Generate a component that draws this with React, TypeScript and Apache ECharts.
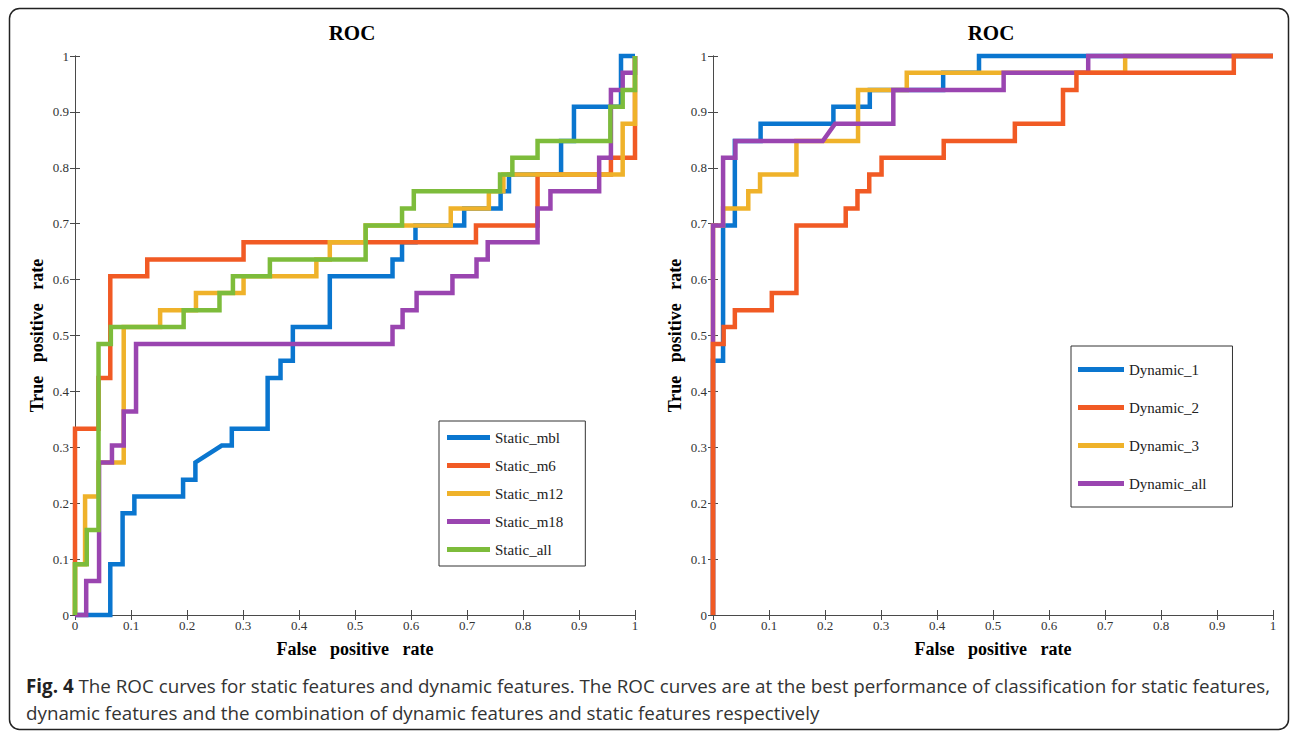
import React, { useEffect, useRef } from "react";
import * as echarts from "echarts";

// ---------- Data: ROC curve vertices (FPR, TPR) ----------
const staticNames = ["Static_mbl", "Static_m6", "Static_m12", "Static_m18", "Static_all"];
const dynamicNames = ["Dynamic_1", "Dynamic_2", "Dynamic_3", "Dynamic_all"];

const mblFpr = [0, 0.063, 0.063, 0.085, 0.085, 0.106, 0.106, 0.193, 0.193, 0.215, 0.215, 0.262, 0.28, 0.28, 0.344, 0.344, 0.367, 0.367, 0.389, 0.389, 0.455, 0.455, 0.567, 0.567, 0.584, 0.584, 0.608, 0.608, 0.695, 0.695, 0.76, 0.76, 0.775, 0.775, 0.868, 0.868, 0.891, 0.891, 0.975, 0.975, 1];
const mblTpr = [0, 0, 0.091, 0.091, 0.182, 0.182, 0.212, 0.212, 0.242, 0.242, 0.273, 0.303, 0.303, 0.333, 0.333, 0.424, 0.424, 0.455, 0.455, 0.515, 0.515, 0.606, 0.606, 0.636, 0.636, 0.667, 0.667, 0.697, 0.697, 0.727, 0.727, 0.758, 0.758, 0.788, 0.788, 0.848, 0.848, 0.909, 0.909, 1, 1];

const m6Fpr = [0, 0, 0.042, 0.042, 0.063, 0.063, 0.129, 0.129, 0.301, 0.301, 0.716, 0.716, 0.826, 0.826, 0.957, 0.957, 1, 1];
const m6Tpr = [0, 0.333, 0.333, 0.424, 0.424, 0.606, 0.606, 0.636, 0.636, 0.667, 0.667, 0.697, 0.697, 0.788, 0.788, 0.818, 0.818, 1];

const m12Fpr = [0, 0, 0.018, 0.018, 0.042, 0.042, 0.087, 0.087, 0.152, 0.152, 0.216, 0.216, 0.301, 0.301, 0.431, 0.431, 0.455, 0.455, 0.519, 0.519, 0.671, 0.671, 0.739, 0.739, 0.765, 0.765, 0.978, 0.978, 1, 1];
const m12Tpr = [0, 0.091, 0.091, 0.212, 0.212, 0.273, 0.273, 0.515, 0.515, 0.545, 0.545, 0.576, 0.576, 0.606, 0.606, 0.636, 0.636, 0.667, 0.667, 0.697, 0.697, 0.727, 0.727, 0.758, 0.758, 0.788, 0.788, 0.879, 0.879, 1];

const m18Fpr = [0, 0.02, 0.02, 0.043, 0.043, 0.066, 0.066, 0.087, 0.087, 0.109, 0.109, 0.567, 0.567, 0.585, 0.585, 0.61, 0.61, 0.674, 0.674, 0.717, 0.717, 0.737, 0.737, 0.826, 0.826, 0.849, 0.849, 0.936, 0.936, 0.957, 0.957, 0.978, 0.978, 1, 1];
const m18Tpr = [0, 0, 0.061, 0.061, 0.273, 0.273, 0.303, 0.303, 0.364, 0.364, 0.485, 0.485, 0.515, 0.515, 0.545, 0.545, 0.576, 0.576, 0.606, 0.606, 0.636, 0.636, 0.667, 0.667, 0.727, 0.727, 0.758, 0.758, 0.818, 0.818, 0.939, 0.939, 0.97, 0.97, 1];

const allFpr = [0, 0, 0.021, 0.021, 0.042, 0.042, 0.064, 0.064, 0.194, 0.194, 0.258, 0.258, 0.282, 0.282, 0.348, 0.348, 0.519, 0.519, 0.584, 0.584, 0.605, 0.605, 0.759, 0.759, 0.781, 0.781, 0.826, 0.826, 0.956, 0.956, 0.978, 0.978, 1, 1];
const allTpr = [0, 0.091, 0.091, 0.152, 0.152, 0.485, 0.485, 0.515, 0.515, 0.545, 0.545, 0.576, 0.576, 0.606, 0.606, 0.636, 0.636, 0.697, 0.697, 0.727, 0.727, 0.758, 0.758, 0.788, 0.788, 0.818, 0.818, 0.848, 0.848, 0.909, 0.909, 0.939, 0.939, 1];

const d1Fpr = [0, 0, 0.018, 0.018, 0.039, 0.039, 0.085, 0.085, 0.215, 0.215, 0.28, 0.28, 0.411, 0.411, 0.475, 0.475, 1];
const d1Tpr = [0, 0.455, 0.455, 0.697, 0.697, 0.848, 0.848, 0.879, 0.879, 0.909, 0.909, 0.939, 0.939, 0.97, 0.97, 1, 1];

const d2Fpr = [0, 0, 0.019, 0.019, 0.039, 0.039, 0.105, 0.105, 0.149, 0.149, 0.237, 0.237, 0.258, 0.258, 0.279, 0.279, 0.301, 0.301, 0.412, 0.412, 0.539, 0.539, 0.625, 0.625, 0.649, 0.649, 0.93, 0.93, 1];
const d2Tpr = [0, 0.485, 0.485, 0.515, 0.515, 0.545, 0.545, 0.576, 0.576, 0.697, 0.697, 0.727, 0.727, 0.758, 0.758, 0.788, 0.788, 0.818, 0.818, 0.848, 0.848, 0.879, 0.879, 0.939, 0.939, 0.97, 0.97, 1, 1];

const d3Fpr = [0, 0, 0.018, 0.018, 0.063, 0.063, 0.084, 0.084, 0.149, 0.149, 0.259, 0.259, 0.346, 0.346, 0.736, 0.736, 1];
const d3Tpr = [0, 0.697, 0.697, 0.727, 0.727, 0.758, 0.758, 0.788, 0.788, 0.848, 0.848, 0.939, 0.939, 0.97, 0.97, 1, 1];

const dallFpr = [0, 0, 0.018, 0.018, 0.04, 0.04, 0.196, 0.218, 0.322, 0.322, 0.519, 0.519, 0.67, 0.67, 1];
const dallTpr = [0, 0.697, 0.697, 0.818, 0.818, 0.848, 0.848, 0.879, 0.879, 0.939, 0.939, 0.97, 0.97, 1, 1];

const COLORS = {
  blue: "#0a76cf",
  orange: "#f15a24",
  yellow: "#efb22a",
  purple: "#9a45b0",
  green: "#7dbc3b",
};

const pairs = (xs: number[], ys: number[]) => xs.map((x, i) => [x, ys[i]]);

const SERIF = "'Liberation Serif', 'Times New Roman', serif";
const CAPTION_FONT = "'Open Sans', sans-serif";

export default function App() {
  const ref = useRef<HTMLDivElement>(null);

  useEffect(() => {
    if (!ref.current) return;
    const chart = echarts.init(ref.current, null, { renderer: "svg" });

    const axisLine = { show: true, lineStyle: { color: "#4a4a4a", width: 1 } };
    const tick = { show: true, inside: true, length: 5, lineStyle: { color: "#4a4a4a", width: 1 } };
    const label = { color: "#333", fontFamily: SERIF, fontSize: 13 };
    const nameStyle = { fontFamily: SERIF, fontWeight: "bold" as const, fontSize: 18, color: "#000" };

    const makeX = (gridIndex: number) => [
      {
        type: "value", gridIndex, min: 0, max: 1, interval: 0.1, position: "bottom",
        axisLine, axisTick: tick, splitLine: { show: false },
        axisLabel: { ...label, margin: 4 },
        name: "False   positive   rate", nameLocation: "middle", nameGap: 25, nameTextStyle: nameStyle,
      },
      {
        type: "value", gridIndex, min: 0, max: 1, interval: 0.1, position: "top",
        axisLine, axisTick: tick, splitLine: { show: false }, axisLabel: { show: false },
      },
    ];
    const makeY = (gridIndex: number) => [
      {
        type: "value", gridIndex, min: 0, max: 1, interval: 0.1, position: "left",
        axisLine, axisTick: tick, splitLine: { show: false },
        axisLabel: { ...label, margin: 6 },
        name: "True   positive   rate", nameLocation: "middle", nameGap: 29, nameTextStyle: nameStyle,
      },
      {
        type: "value", gridIndex, min: 0, max: 1, interval: 0.1, position: "right",
        axisLine, axisTick: tick, splitLine: { show: false }, axisLabel: { show: false },
      },
    ];

    const line = (name: string, color: string, data: number[][], gi: number) => ({
      name, type: "line", data, xAxisIndex: gi * 2, yAxisIndex: gi * 2,
      showSymbol: false, symbol: "none", clip: false,
      lineStyle: { color, width: 4.5, join: "miter" },
      itemStyle: { color },
    });

    const legendBase = {
      orient: "vertical", icon: "rect", selectedMode: false,
      backgroundColor: "#fff", borderColor: "#333", borderWidth: 1,
      textStyle: { fontFamily: SERIF, fontSize: 15, color: "#222" },
    };

    chart.setOption({
      animation: false,
      backgroundColor: "#fff",
      grid: [
        { left: 75, top: 56, width: 560, height: 559 },
        { left: 713, top: 56, width: 560, height: 559 },
      ],
      xAxis: [...makeX(0), ...makeX(1)],
      yAxis: [...makeY(0), ...makeY(1)],
      legend: [
        {
          ...legendBase, data: staticNames, left: 439, top: 421,
          itemWidth: 43, itemHeight: 5, itemGap: 13, padding: [9, 22, 9, 8],
        },
        {
          ...legendBase, data: dynamicNames, left: 1071, top: 346,
          itemWidth: 46, itemHeight: 5, itemGap: 23, padding: [16, 26, 16, 7],
        },
      ],
      series: [
        line(staticNames[0], COLORS.blue, pairs(mblFpr, mblTpr), 0),
        line(staticNames[1], COLORS.orange, pairs(m6Fpr, m6Tpr), 0),
        line(staticNames[2], COLORS.yellow, pairs(m12Fpr, m12Tpr), 0),
        line(staticNames[3], COLORS.purple, pairs(m18Fpr, m18Tpr), 0),
        line(staticNames[4], COLORS.green, pairs(allFpr, allTpr), 0),
        line(dynamicNames[0], COLORS.blue, pairs(d1Fpr, d1Tpr), 1),
        line(dynamicNames[2], COLORS.yellow, pairs(d3Fpr, d3Tpr), 1),
        line(dynamicNames[3], COLORS.purple, pairs(dallFpr, dallTpr), 1),
        line(dynamicNames[1], COLORS.orange, pairs(d2Fpr, d2Tpr), 1),
      ],
      graphic: [
        {
          type: "rect", silent: true, z: -1,
          shape: { x: 9.5, y: 8.5, width: 1279, height: 721, r: 10 },
          style: { fill: "none", stroke: "#222", lineWidth: 1.5 },
        },
        {
          type: "text", x: 352, y: 33,
          style: { text: "ROC", font: `bold 21px ${SERIF}`, fill: "#000", textAlign: "center", textVerticalAlign: "middle" },
        },
        {
          type: "text", x: 991, y: 33,
          style: { text: "ROC", font: `bold 21px ${SERIF}`, fill: "#000", textAlign: "center", textVerticalAlign: "middle" },
        },
        {
          type: "text", x: 26, y: 686,
          style: {
            text: "{b|Fig. 4} The ROC curves for static features and dynamic features. The ROC curves are at the best performance of classification for static features,",
            font: `18.8px ${CAPTION_FONT}`, fill: "#333", textVerticalAlign: "middle",
            rich: { b: { fontWeight: "bold", fontFamily: CAPTION_FONT, fontSize: 18.8, fill: "#222" } },
          },
        },
        {
          type: "text", x: 26, y: 713,
          style: {
            text: "dynamic features and the combination of dynamic features and static features respectively",
            font: `18.8px ${CAPTION_FONT}`, fill: "#333", textVerticalAlign: "middle",
          },
        },
      ],
    });

    return () => chart.dispose();
  }, []);

  return (
    <div
      ref={ref}
      style={{ position: "fixed", left: 0, top: 0, width: 1292, height: 732, background: "#fff" }}
    />
  );
}
